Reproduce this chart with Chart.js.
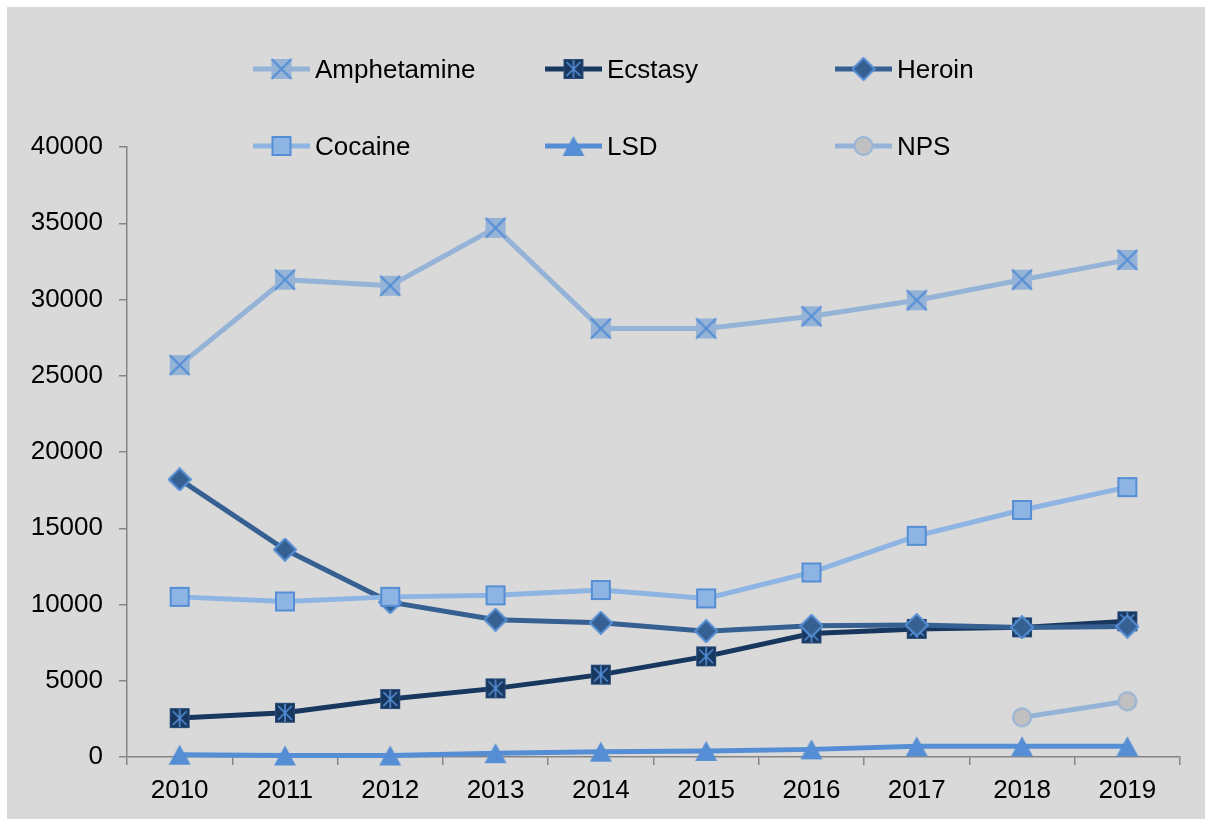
<!DOCTYPE html>
<html>
<head>
<meta charset="utf-8">
<script src="https://cdn.jsdelivr.net/npm/chart.js@4.4.0/dist/chart.umd.min.js"></script>
<style>
  html, body { margin: 0; padding: 0; background: #fff; }
  #wrap { position: absolute; left: 7px; top: 7px; width: 1198px; height: 812px; background: #d9d9d9; }
</style>
</head>
<body>
<div id="wrap"><canvas id="chart" width="1198" height="812"></canvas></div>
<script>
var years = ['2010', '2011', '2012', '2013', '2014', '2015', '2016', '2017', '2018', '2019'];
var amphetamine = [25700, 31300, 30900, 34700, 28100, 28100, 28900, 29950, 31300, 32600];
var ecstasy = [2550, 2900, 3800, 4500, 5400, 6600, 8100, 8400, 8500, 8900];
var heroin = [18200, 13600, 10150, 9000, 8800, 8250, 8600, 8650, 8500, 8550];
var cocaine = [10500, 10200, 10500, 10600, 10950, 10400, 12100, 14500, 16200, 17700];
var lsd = [150, 100, 100, 250, 350, 400, 500, 700, 700, 700];
var nps = [null, null, null, null, null, null, null, null, 2600, 3650];

// markers drawn once into small canvases, used as point styles
function marker(kind, fill, stroke) {
    var c = document.createElement('canvas');
    c.width = 24; c.height = 24;
    var g = c.getContext('2d');
    g.fillStyle = fill;
    g.strokeStyle = stroke;
    if (kind == 'x') {
        g.fillRect(2, 2, 20, 20);
        g.lineWidth = 2;
        g.beginPath();
        g.moveTo(2, 2); g.lineTo(22, 22);
        g.moveTo(22, 2); g.lineTo(2, 22);
        g.stroke();
    } else if (kind == 'star') {
        g.fillRect(2, 2, 20, 20);
        g.lineWidth = 1;
        g.strokeStyle = '#2a4d7a';
        g.strokeRect(2.5, 2.5, 19, 19);
        g.strokeStyle = stroke;
        g.lineWidth = 1.6;
        g.beginPath();
        g.moveTo(5, 5); g.lineTo(19, 19);
        g.moveTo(19, 5); g.lineTo(5, 19);
        g.moveTo(12, 3); g.lineTo(12, 21);
        g.stroke();
    } else if (kind == 'diamond') {
        g.lineWidth = 2;
        g.beginPath();
        g.moveTo(12, 1); g.lineTo(23, 12); g.lineTo(12, 23); g.lineTo(1, 12);
        g.closePath();
        g.fill(); g.stroke();
    } else if (kind == 'square') {
        g.lineWidth = 2;
        g.fillRect(3, 3, 18, 18);
        g.strokeRect(3, 3, 18, 18);
    } else if (kind == 'triangle') {
        g.beginPath();
        g.moveTo(12, 2); g.lineTo(23, 22); g.lineTo(1, 22);
        g.closePath();
        g.fill();
    } else if (kind == 'circle') {
        g.lineWidth = 2;
        g.beginPath();
        g.arc(12, 12, 9, 0, Math.PI * 2);
        g.fill(); g.stroke();
    }
    return c;
}

function series(label, data, color, pt, order) {
    return {
        label: label,
        data: data,
        borderColor: color,
        backgroundColor: color,
        borderWidth: 5,
        pointStyle: pt,
        pointRadius: 10,
        pointHoverRadius: 10,
        tension: 0,
        clip: false,
        order: order
    };
}

var datasets = [
    series('Amphetamine', amphetamine, '#95b3d7', marker('x', '#95b3d7', '#558ed5'), 6),
    series('Ecstasy', ecstasy, '#17375e', marker('star', '#17375e', '#558ed5'), 5),
    series('Heroin', heroin, '#376092', marker('diamond', '#376092', '#558ed5'), 4),
    series('Cocaine', cocaine, '#8db4e2', marker('square', '#8db4e2', '#558ed5'), 3),
    series('LSD', lsd, '#558ed5', marker('triangle', '#558ed5', '#558ed5'), 2),
    series('NPS', nps, '#95b3d7', marker('circle', '#c0c0c0', '#95b3d7'), 1)
];

// Excel style legend in a 3 x 2 grid, sitting over the top of the plot
var legendGrid = {
    id: 'legendGrid',
    afterDraw: function(chart) {
        var ctx = chart.ctx;
        var cols = [246, 538, 828];
        var rows = [62, 139];
        ctx.save();
        chart.data.datasets.forEach(function(ds, i) {
            var x = cols[i % 3], y = rows[Math.floor(i / 3)];
            ctx.strokeStyle = ds.borderColor;
            ctx.lineWidth = 5;
            ctx.beginPath();
            ctx.moveTo(x, y); ctx.lineTo(x + 57, y);
            ctx.stroke();
            ctx.drawImage(ds.pointStyle, x + 28.5 - 12, y - 12);
            ctx.fillStyle = '#000';
            ctx.font = '26px "Liberation Sans", Arial, sans-serif';
            ctx.textBaseline = 'middle';
            ctx.fillText(ds.label, x + 62, y + 2);
        });
        ctx.restore();
    }
};

new Chart(document.getElementById('chart'), {
    type: 'line',
    data: { labels: years, datasets: datasets },
    options: {
        responsive: false,
        animation: false,
        layout: { padding: { top: 140, right: 25, left: 0, bottom: 0 } },
        plugins: {
            legend: { display: false },
            tooltip: { enabled: false }
        },
        scales: {
            x: {
                offset: true,
                grid: { display: true, drawOnChartArea: false, drawTicks: true, tickLength: 8, offset: true, color: '#868686', lineWidth: 1.5 },
                border: { color: '#868686', width: 1.5 },
                ticks: { color: '#000', padding: 10, font: { family: '"Liberation Sans", Arial, sans-serif', size: 26 } },
                afterFit: function(s) { s.height = 62; }
            },
            y: {
                min: 0,
                max: 40000,
                grid: { display: true, drawOnChartArea: false, drawTicks: true, tickLength: 8, color: '#868686', lineWidth: 1.5 },
                border: { color: '#868686', width: 1.5 },
                ticks: {
                    stepSize: 5000,
                    color: '#000',
                    padding: 16,
                    font: { family: '"Liberation Sans", Arial, sans-serif', size: 26 },
                    callback: function(v) { return String(v); }
                },
                afterFit: function(s) { s.width = 120; }
            }
        }
    },
    plugins: [legendGrid]
});
</script>
</body>
</html>
